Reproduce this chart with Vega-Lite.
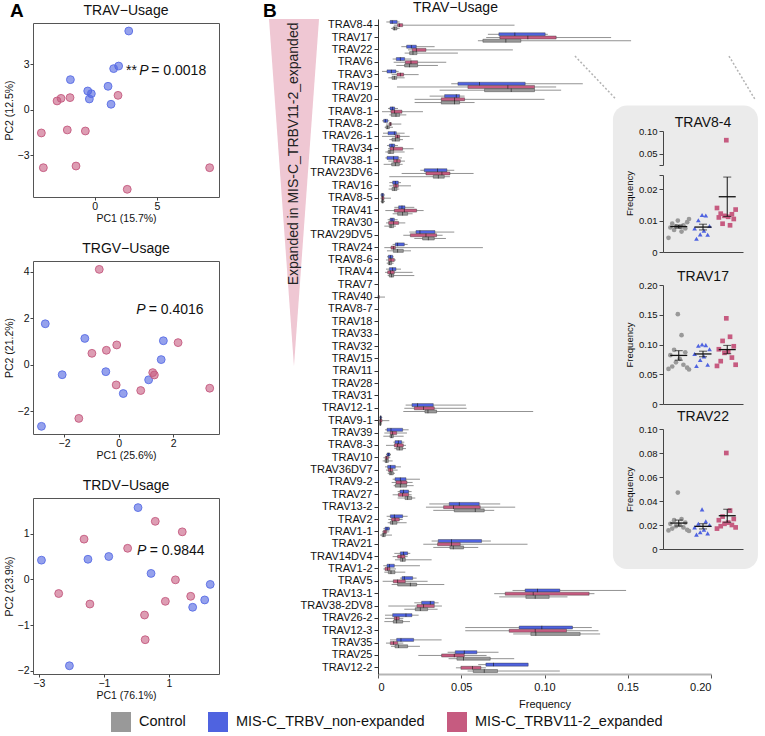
{
"$schema": "https://vega.github.io/schema/vega-lite/v6.json",
"padding": {"left": 3, "top": 0, "right": 5, "bottom": 0},
"background": "white",
"config": {
 "font": "Liberation Sans",
 "view": {"stroke": null},
 "axis": {"grid": false, "labelFont": "Liberation Sans", "titleFont": "Liberation Sans", "titleFontWeight": "normal", "labelColor": "#111", "titleColor": "#111", "labelOverlap": false},
 "title": {"font": "Liberation Sans", "fontWeight": "normal", "color": "#111", "fontSize": 14},
 "legend": {"labelFont": "Liberation Sans"}
},
"datasets": {
 "pca": [
  {"pc":"TRAV","k":"N","x":2.73,"y":5.21},{"pc":"TRAV","k":"N","x":1.92,"y":2.89},{"pc":"TRAV","k":"N","x":1.52,"y":2.72},{"pc":"TRAV","k":"N","x":-1.95,"y":1.99},{"pc":"TRAV","k":"N","x":1.07,"y":1.55},{"pc":"TRAV","k":"N","x":-0.56,"y":1.24},{"pc":"TRAV","k":"N","x":-0.27,"y":1.06},{"pc":"TRAV","k":"N","x":-0.43,"y":0.71},{"pc":"TRAV","k":"N","x":1.31,"y":0.36},
  {"pc":"TRAV","k":"E","x":1.87,"y":0.95},{"pc":"TRAV","k":"E","x":-3.02,"y":0.58},{"pc":"TRAV","k":"E","x":-2.70,"y":0.75},{"pc":"TRAV","k":"E","x":-1.98,"y":0.80},{"pc":"TRAV","k":"E","x":-4.28,"y":-1.54},{"pc":"TRAV","k":"E","x":-2.20,"y":-1.34},{"pc":"TRAV","k":"E","x":-0.75,"y":-1.41},{"pc":"TRAV","k":"E","x":-4.12,"y":-3.84},{"pc":"TRAV","k":"E","x":-1.50,"y":-3.73},{"pc":"TRAV","k":"E","x":2.61,"y":-5.27},{"pc":"TRAV","k":"E","x":9.22,"y":-3.84},
  {"pc":"TRGV","k":"N","x":-2.69,"y":1.77},{"pc":"TRGV","k":"N","x":-1.24,"y":1.14},{"pc":"TRGV","k":"N","x":1.64,"y":1.04},{"pc":"TRGV","k":"N","x":1.56,"y":0.23},{"pc":"TRGV","k":"N","x":-2.07,"y":-0.42},{"pc":"TRGV","k":"N","x":-0.47,"y":-0.29},{"pc":"TRGV","k":"N","x":1.10,"y":-0.64},{"pc":"TRGV","k":"N","x":0.17,"y":-1.23},{"pc":"TRGV","k":"N","x":-2.83,"y":-2.64},
  {"pc":"TRGV","k":"E","x":-0.71,"y":4.11},{"pc":"TRGV","k":"E","x":-0.98,"y":0.50},{"pc":"TRGV","k":"E","x":-0.45,"y":0.63},{"pc":"TRGV","k":"E","x":-0.07,"y":0.86},{"pc":"TRGV","k":"E","x":2.18,"y":0.96},{"pc":"TRGV","k":"E","x":-0.09,"y":-0.86},{"pc":"TRGV","k":"E","x":1.25,"y":-0.33},{"pc":"TRGV","k":"E","x":1.31,"y":-0.43},{"pc":"TRGV","k":"E","x":0.81,"y":-1.10},{"pc":"TRGV","k":"E","x":3.34,"y":-1.00},{"pc":"TRGV","k":"E","x":-1.46,"y":-2.30},
  {"pc":"TRDV","k":"N","x":0.05,"y":1.57},{"pc":"TRDV","k":"N","x":-2.92,"y":0.42},{"pc":"TRDV","k":"N","x":-1.49,"y":0.44},{"pc":"TRDV","k":"N","x":-0.85,"y":0.50},{"pc":"TRDV","k":"N","x":0.45,"y":0.13},{"pc":"TRDV","k":"N","x":2.27,"y":-0.11},{"pc":"TRDV","k":"N","x":2.10,"y":-0.45},{"pc":"TRDV","k":"N","x":1.73,"y":-0.61},{"pc":"TRDV","k":"N","x":-2.06,"y":-1.89},
  {"pc":"TRDV","k":"E","x":0.58,"y":1.27},{"pc":"TRDV","k":"E","x":1.41,"y":1.04},{"pc":"TRDV","k":"E","x":-1.61,"y":0.88},{"pc":"TRDV","k":"E","x":-0.27,"y":0.68},{"pc":"TRDV","k":"E","x":1.20,"y":-0.01},{"pc":"TRDV","k":"E","x":-2.39,"y":-0.31},{"pc":"TRDV","k":"E","x":-1.43,"y":-0.54},{"pc":"TRDV","k":"E","x":0.89,"y":-0.48},{"pc":"TRDV","k":"E","x":1.67,"y":-0.37},{"pc":"TRDV","k":"E","x":0.25,"y":-0.78},{"pc":"TRDV","k":"E","x":0.27,"y":-1.32}
 ],
 "box": [
  {"g":"TRAV8-4","k":"N","lo":0.005,"q1":0.0072,"md":0.0085,"q3":0.0115,"hi":0.013},{"g":"TRAV8-4","k":"E","lo":0.0095,"q1":0.0118,"md":0.013,"q3":0.0148,"hi":0.082},{"g":"TRAV8-4","k":"C","lo":0.0078,"q1":0.009,"md":0.010,"q3":0.0114,"hi":0.013},
  {"g":"TRAV17","k":"N","lo":0.066,"q1":0.0726,"md":0.0822,"q3":0.1004,"hi":0.102},{"g":"TRAV17","k":"E","lo":0.065,"q1":0.0732,"md":0.090,"q3":0.107,"hi":0.14},{"g":"TRAV17","k":"C","lo":0.060,"q1":0.063,"md":0.0768,"q3":0.0858,"hi":0.152},
  {"g":"TRAV22","k":"N","lo":0.014,"q1":0.0172,"md":0.020,"q3":0.023,"hi":0.034},{"g":"TRAV22","k":"E","lo":0.018,"q1":0.0206,"md":0.023,"q3":0.0288,"hi":0.081},{"g":"TRAV22","k":"C","lo":0.016,"q1":0.019,"md":0.021,"q3":0.0234,"hi":0.048},
  {"g":"TRAV6","k":"N","lo":0.0088,"q1":0.011,"md":0.0134,"q3":0.016,"hi":0.020},{"g":"TRAV6","k":"E","lo":0.0094,"q1":0.0164,"md":0.0198,"q3":0.0238,"hi":0.041},{"g":"TRAV6","k":"C","lo":0.011,"q1":0.016,"md":0.019,"q3":0.0238,"hi":0.036},
  {"g":"TRAV3","k":"N","lo":0.0024,"q1":0.0054,"md":0.008,"q3":0.0108,"hi":0.0124},{"g":"TRAV3","k":"E","lo":0.0082,"q1":0.0114,"md":0.0134,"q3":0.0154,"hi":0.0244},{"g":"TRAV3","k":"C","lo":0.0062,"q1":0.0084,"md":0.0098,"q3":0.0112,"hi":0.016},
  {"g":"TRAV19","k":"N","lo":0.044,"q1":0.048,"md":0.061,"q3":0.0884,"hi":0.123},{"g":"TRAV19","k":"E","lo":0.0114,"q1":0.054,"md":0.078,"q3":0.094,"hi":0.107},{"g":"TRAV19","k":"C","lo":0.037,"q1":0.064,"md":0.080,"q3":0.094,"hi":0.11},
  {"g":"TRAV20","k":"N","lo":0.031,"q1":0.040,"md":0.047,"q3":0.049,"hi":0.052},{"g":"TRAV20","k":"E","lo":0.022,"q1":0.038,"md":0.046,"q3":0.052,"hi":0.10},{"g":"TRAV20","k":"C","lo":0.022,"q1":0.038,"md":0.046,"q3":0.049,"hi":0.058},
  {"g":"TRAV8-1","k":"N","lo":0.006,"q1":0.0072,"md":0.0086,"q3":0.010,"hi":0.012},{"g":"TRAV8-1","k":"E","lo":0.0024,"q1":0.0078,"md":0.010,"q3":0.0144,"hi":0.027},{"g":"TRAV8-1","k":"C","lo":0.0068,"q1":0.008,"md":0.0108,"q3":0.013,"hi":0.017},
  {"g":"TRAV8-2","k":"N","lo":0.0024,"q1":0.0034,"md":0.0044,"q3":0.0058,"hi":0.0068},{"g":"TRAV8-2","k":"E","lo":0.0048,"q1":0.0068,"md":0.0074,"q3":0.008,"hi":0.014},{"g":"TRAV8-2","k":"C","lo":0.004,"q1":0.0048,"md":0.0058,"q3":0.0068,"hi":0.009},
  {"g":"TRAV26-1","k":"N","lo":0.003,"q1":0.006,"md":0.0098,"q3":0.011,"hi":0.016},{"g":"TRAV26-1","k":"E","lo":0.0024,"q1":0.0104,"md":0.0118,"q3":0.013,"hi":0.019},{"g":"TRAV26-1","k":"C","lo":0.0068,"q1":0.0084,"md":0.0104,"q3":0.013,"hi":0.015},
  {"g":"TRAV34","k":"N","lo":0.0054,"q1":0.0068,"md":0.0084,"q3":0.010,"hi":0.012},{"g":"TRAV34","k":"E","lo":0.006,"q1":0.0072,"md":0.0094,"q3":0.0148,"hi":0.0214},{"g":"TRAV34","k":"C","lo":0.0044,"q1":0.006,"md":0.0072,"q3":0.0094,"hi":0.016},
  {"g":"TRAV38-1","k":"N","lo":0.0044,"q1":0.0054,"md":0.0094,"q3":0.0122,"hi":0.0144},{"g":"TRAV38-1","k":"E","lo":0.0062,"q1":0.0094,"md":0.0114,"q3":0.0134,"hi":0.0162},{"g":"TRAV38-1","k":"C","lo":0.0034,"q1":0.0082,"md":0.0104,"q3":0.0128,"hi":0.0148},
  {"g":"TRAV23DV6","k":"N","lo":0.0254,"q1":0.0278,"md":0.0358,"q3":0.0414,"hi":0.0458},{"g":"TRAV23DV6","k":"E","lo":0.0142,"q1":0.0288,"md":0.0384,"q3":0.0432,"hi":0.0574},{"g":"TRAV23DV6","k":"C","lo":0.0068,"q1":0.0332,"md":0.0362,"q3":0.0398,"hi":0.0432},
  {"g":"TRAV16","k":"N","lo":0.0068,"q1":0.0088,"md":0.0104,"q3":0.0122,"hi":0.0138},{"g":"TRAV16","k":"E","lo":0.0068,"q1":0.0094,"md":0.0108,"q3":0.0122,"hi":0.0198},{"g":"TRAV16","k":"C","lo":0.0064,"q1":0.0084,"md":0.0098,"q3":0.0114,"hi":0.0128},
  {"g":"TRAV8-5","k":"N","lo":0.0014,"q1":0.002,"md":0.0026,"q3":0.0034,"hi":0.0042},{"g":"TRAV8-5","k":"E","lo":0.0014,"q1":0.0022,"md":0.0028,"q3":0.0036,"hi":0.0078},{"g":"TRAV8-5","k":"C","lo":0.0016,"q1":0.0022,"md":0.0026,"q3":0.0034,"hi":0.0042},
  {"g":"TRAV41","k":"N","lo":0.0098,"q1":0.0124,"md":0.0144,"q3":0.0162,"hi":0.0218},{"g":"TRAV41","k":"E","lo":0.0044,"q1":0.0098,"md":0.0158,"q3":0.0232,"hi":0.0274},{"g":"TRAV41","k":"C","lo":0.0088,"q1":0.0118,"md":0.0148,"q3":0.0178,"hi":0.0208},
  {"g":"TRAV30","k":"N","lo":0.0058,"q1":0.0072,"md":0.0084,"q3":0.0098,"hi":0.0118},{"g":"TRAV30","k":"E","lo":0.0048,"q1":0.0064,"md":0.0094,"q3":0.0124,"hi":0.0164},{"g":"TRAV30","k":"C","lo":0.0038,"q1":0.0068,"md":0.0078,"q3":0.0094,"hi":0.0108},
  {"g":"TRAV29DV5","k":"N","lo":0.0188,"q1":0.0228,"md":0.0252,"q3":0.0342,"hi":0.0458},{"g":"TRAV29DV5","k":"E","lo":0.0152,"q1":0.0194,"md":0.0288,"q3":0.0352,"hi":0.0388},{"g":"TRAV29DV5","k":"C","lo":0.0218,"q1":0.0268,"md":0.0302,"q3":0.0338,"hi":0.0408},
  {"g":"TRAV24","k":"N","lo":0.0088,"q1":0.0104,"md":0.0118,"q3":0.0158,"hi":0.0178},{"g":"TRAV24","k":"E","lo":0.0038,"q1":0.0078,"md":0.0092,"q3":0.0104,"hi":0.063},{"g":"TRAV24","k":"C","lo":0.0054,"q1":0.0092,"md":0.0118,"q3":0.0152,"hi":0.0198},
  {"g":"TRAV8-6","k":"N","lo":0.0054,"q1":0.0062,"md":0.0074,"q3":0.0088,"hi":0.0094},{"g":"TRAV8-6","k":"E","lo":0.0048,"q1":0.0064,"md":0.0078,"q3":0.0098,"hi":0.0108},{"g":"TRAV8-6","k":"C","lo":0.0052,"q1":0.0062,"md":0.007,"q3":0.0082,"hi":0.0094},
  {"g":"TRAV4","k":"N","lo":0.0048,"q1":0.0068,"md":0.0088,"q3":0.0108,"hi":0.0138},{"g":"TRAV4","k":"E","lo":0.0042,"q1":0.0058,"md":0.0074,"q3":0.0098,"hi":0.0208},{"g":"TRAV4","k":"C","lo":0.0058,"q1":0.0068,"md":0.0082,"q3":0.0094,"hi":0.0218},
  {"g":"TRAV40","k":"E","lo":0,"q1":0,"md":0.0002,"q3":0.0008,"hi":0.0042},
  {"g":"TRAV12-1","k":"N","lo":0.0166,"q1":0.0204,"md":0.0238,"q3":0.0332,"hi":0.0528},{"g":"TRAV12-1","k":"E","lo":0.0158,"q1":0.0218,"md":0.0274,"q3":0.0338,"hi":0.0532},{"g":"TRAV12-1","k":"C","lo":0.0152,"q1":0.0282,"md":0.030,"q3":0.0352,"hi":0.0932},
  {"g":"TRAV9-1","k":"N","lo":0.0008,"q1":0.0012,"md":0.0016,"q3":0.002,"hi":0.0026},{"g":"TRAV9-1","k":"E","lo":0.0004,"q1":0.001,"md":0.0016,"q3":0.0024,"hi":0.0068},{"g":"TRAV9-1","k":"C","lo":0.0006,"q1":0.001,"md":0.0014,"q3":0.0018,"hi":0.0024},
  {"g":"TRAV39","k":"N","lo":0.0042,"q1":0.0054,"md":0.0078,"q3":0.0148,"hi":0.0184},{"g":"TRAV39","k":"E","lo":0.0038,"q1":0.0074,"md":0.0088,"q3":0.0112,"hi":0.0174},{"g":"TRAV39","k":"C","lo":0.0032,"q1":0.0072,"md":0.0082,"q3":0.0092,"hi":0.0154},
  {"g":"TRAV8-3","k":"N","lo":0.0092,"q1":0.0102,"md":0.0122,"q3":0.0142,"hi":0.0158},{"g":"TRAV8-3","k":"E","lo":0.0048,"q1":0.0098,"md":0.0118,"q3":0.0152,"hi":0.0168},{"g":"TRAV8-3","k":"C","lo":0.0098,"q1":0.0112,"md":0.0128,"q3":0.0148,"hi":0.0168},
  {"g":"TRAV10","k":"N","lo":0.0048,"q1":0.0054,"md":0.0062,"q3":0.0072,"hi":0.0078},{"g":"TRAV10","k":"E","lo":0.0032,"q1":0.0044,"md":0.0052,"q3":0.0062,"hi":0.0074},{"g":"TRAV10","k":"C","lo":0.0028,"q1":0.0042,"md":0.005,"q3":0.0062,"hi":0.0088},
  {"g":"TRAV36DV7","k":"N","lo":0.0042,"q1":0.0058,"md":0.0074,"q3":0.0104,"hi":0.0138},{"g":"TRAV36DV7","k":"E","lo":0.0048,"q1":0.0062,"md":0.0074,"q3":0.0088,"hi":0.0118},{"g":"TRAV36DV7","k":"C","lo":0.0058,"q1":0.0068,"md":0.0078,"q3":0.0092,"hi":0.0102},
  {"g":"TRAV9-2","k":"N","lo":0.0088,"q1":0.0102,"md":0.0134,"q3":0.0168,"hi":0.0252},{"g":"TRAV9-2","k":"E","lo":0.0082,"q1":0.0108,"md":0.0138,"q3":0.0174,"hi":0.0208},{"g":"TRAV9-2","k":"C","lo":0.0094,"q1":0.0104,"md":0.0134,"q3":0.0172,"hi":0.0214},
  {"g":"TRAV27","k":"N","lo":0.0118,"q1":0.0132,"md":0.0154,"q3":0.0184,"hi":0.0202},{"g":"TRAV27","k":"E","lo":0.0088,"q1":0.0122,"md":0.0148,"q3":0.0184,"hi":0.0202},{"g":"TRAV27","k":"C","lo":0.0118,"q1":0.0162,"md":0.0178,"q3":0.0202,"hi":0.0224},
  {"g":"TRAV13-2","k":"N","lo":0.0308,"q1":0.0428,"md":0.0488,"q3":0.0608,"hi":0.0734},{"g":"TRAV13-2","k":"E","lo":0.0288,"q1":0.0394,"md":0.0454,"q3":0.0614,"hi":0.0824},{"g":"TRAV13-2","k":"C","lo":0.0332,"q1":0.0458,"md":0.0584,"q3":0.0638,"hi":0.0698},
  {"g":"TRAV2","k":"N","lo":0.0052,"q1":0.0074,"md":0.0098,"q3":0.0148,"hi":0.0178},{"g":"TRAV2","k":"E","lo":0.0062,"q1":0.0082,"md":0.0102,"q3":0.0128,"hi":0.0148},{"g":"TRAV2","k":"C","lo":0.0058,"q1":0.0074,"md":0.0088,"q3":0.0114,"hi":0.0172},
  {"g":"TRAV1-1","k":"N","lo":0.0032,"q1":0.0042,"md":0.0054,"q3":0.0068,"hi":0.0072},{"g":"TRAV1-1","k":"E","lo":0.0024,"q1":0.0032,"md":0.0042,"q3":0.0052,"hi":0.0068},{"g":"TRAV1-1","k":"C","lo":0.0012,"q1":0.0024,"md":0.0034,"q3":0.0044,"hi":0.0084},
  {"g":"TRAV21","k":"N","lo":0.0322,"q1":0.0362,"md":0.0442,"q3":0.0622,"hi":0.0678},{"g":"TRAV21","k":"E","lo":0.0272,"q1":0.0358,"md":0.0442,"q3":0.0494,"hi":0.0898},{"g":"TRAV21","k":"C","lo":0.0332,"q1":0.0432,"md":0.0452,"q3":0.0514,"hi":0.0602},
  {"g":"TRAV14DV4","k":"N","lo":0.0098,"q1":0.0134,"md":0.0154,"q3":0.0178,"hi":0.0194},{"g":"TRAV14DV4","k":"E","lo":0.0088,"q1":0.0118,"md":0.0138,"q3":0.0162,"hi":0.0178},{"g":"TRAV14DV4","k":"C","lo":0.0102,"q1":0.0134,"md":0.0148,"q3":0.0164,"hi":0.0322},
  {"g":"TRAV1-2","k":"N","lo":0.0032,"q1":0.0054,"md":0.0068,"q3":0.0098,"hi":0.0252},{"g":"TRAV1-2","k":"E","lo":0.0032,"q1":0.0042,"md":0.0058,"q3":0.0072,"hi":0.0108},{"g":"TRAV1-2","k":"C","lo":0.0038,"q1":0.0062,"md":0.0078,"q3":0.0102,"hi":0.0164},
  {"g":"TRAV5","k":"N","lo":0.0132,"q1":0.0144,"md":0.0158,"q3":0.0208,"hi":0.0232},{"g":"TRAV5","k":"E","lo":0.0028,"q1":0.0092,"md":0.0118,"q3":0.0164,"hi":0.0298},{"g":"TRAV5","k":"C","lo":0.0082,"q1":0.0118,"md":0.0194,"q3":0.0232,"hi":0.0398},
  {"g":"TRAV13-1","k":"N","lo":0.0808,"q1":0.0884,"md":0.0958,"q3":0.1092,"hi":0.149},{"g":"TRAV13-1","k":"E","lo":0.0698,"q1":0.0764,"md":0.0932,"q3":0.1268,"hi":0.130},{"g":"TRAV13-1","k":"C","lo":0.0728,"q1":0.0888,"md":0.0944,"q3":0.1028,"hi":0.1138},
  {"g":"TRAV38-2DV8","k":"N","lo":0.0218,"q1":0.0262,"md":0.0314,"q3":0.0338,"hi":0.0364},{"g":"TRAV38-2DV8","k":"E","lo":0.0062,"q1":0.0234,"md":0.0274,"q3":0.0338,"hi":0.0384},{"g":"TRAV38-2DV8","k":"C","lo":0.0158,"q1":0.0224,"md":0.0254,"q3":0.0298,"hi":0.0358},
  {"g":"TRAV26-2","k":"N","lo":0.0042,"q1":0.0088,"md":0.0168,"q3":0.0204,"hi":0.0244},{"g":"TRAV26-2","k":"E","lo":0.0042,"q1":0.0098,"md":0.011,"q3":0.0128,"hi":0.0152},{"g":"TRAV26-2","k":"C","lo":0.0038,"q1":0.0092,"md":0.0112,"q3":0.0148,"hi":0.0192},
  {"g":"TRAV12-3","k":"N","lo":0.0524,"q1":0.0848,"md":0.0984,"q3":0.1168,"hi":0.1284},{"g":"TRAV12-3","k":"E","lo":0.0524,"q1":0.0788,"md":0.0944,"q3":0.1132,"hi":0.1324},{"g":"TRAV12-3","k":"C","lo":0.0812,"q1":0.0918,"md":0.0948,"q3":0.1214,"hi":0.1334},
  {"g":"TRAV35","k":"N","lo":0.0072,"q1":0.0112,"md":0.0138,"q3":0.0214,"hi":0.0382},{"g":"TRAV35","k":"E","lo":0.0048,"q1":0.0074,"md":0.0094,"q3":0.0118,"hi":0.0152},{"g":"TRAV35","k":"C","lo":0.0078,"q1":0.0102,"md":0.0124,"q3":0.0178,"hi":0.0252},
  {"g":"TRAV25","k":"N","lo":0.0418,"q1":0.0464,"md":0.0518,"q3":0.0594,"hi":0.0724},{"g":"TRAV25","k":"E","lo":0.0242,"q1":0.0382,"md":0.0458,"q3":0.0518,"hi":0.0652},{"g":"TRAV25","k":"C","lo":0.0424,"q1":0.0474,"md":0.0514,"q3":0.0674,"hi":0.0818},
  {"g":"TRAV12-2","k":"N","lo":0.0602,"q1":0.0648,"md":0.0694,"q3":0.0902,"hi":0.0902},{"g":"TRAV12-2","k":"E","lo":0.0468,"q1":0.0498,"md":0.0568,"q3":0.0618,"hi":0.0648},{"g":"TRAV12-2","k":"C","lo":0.0538,"q1":0.0572,"md":0.0638,"q3":0.0718,"hi":0.1092}
 ],
 "ins": [
  {"p":"TRAV8-4","k":"C","i":1,"v":0.0045},{"p":"TRAV8-4","k":"C","i":8,"v":0.0065},{"p":"TRAV8-4","k":"C","i":4,"v":0.007},{"p":"TRAV8-4","k":"C","i":10,"v":0.0075},{"p":"TRAV8-4","k":"C","i":2,"v":0.0078},{"p":"TRAV8-4","k":"C","i":7,"v":0.008},{"p":"TRAV8-4","k":"C","i":5,"v":0.0082},{"p":"TRAV8-4","k":"C","i":9,"v":0.0085},{"p":"TRAV8-4","k":"C","i":3,"v":0.009},{"p":"TRAV8-4","k":"C","i":11,"v":0.0095},{"p":"TRAV8-4","k":"C","i":6,"v":0.010},{"p":"TRAV8-4","k":"C","i":12,"v":0.0105},
  {"p":"TRAV8-4","k":"N","i":6,"v":0.0118},{"p":"TRAV8-4","k":"N","i":8,"v":0.0116},{"p":"TRAV8-4","k":"N","i":4,"v":0.0101},{"p":"TRAV8-4","k":"N","i":10,"v":0.0083},{"p":"TRAV8-4","k":"N","i":2,"v":0.0075},{"p":"TRAV8-4","k":"N","i":7,"v":0.0068},{"p":"TRAV8-4","k":"N","i":5,"v":0.0056},{"p":"TRAV8-4","k":"N","i":9,"v":0.0055},{"p":"TRAV8-4","k":"N","i":3,"v":0.0042},
  {"p":"TRAV8-4","k":"E","i":6,"v":0.08},{"p":"TRAV8-4","k":"E","i":8,"v":0.0085},{"p":"TRAV8-4","k":"E","i":4,"v":0.009},{"p":"TRAV8-4","k":"E","i":10,"v":0.0105},{"p":"TRAV8-4","k":"E","i":2,"v":0.011},{"p":"TRAV8-4","k":"E","i":7,"v":0.0112},{"p":"TRAV8-4","k":"E","i":5,"v":0.0115},{"p":"TRAV8-4","k":"E","i":9,"v":0.012},{"p":"TRAV8-4","k":"E","i":3,"v":0.0122},{"p":"TRAV8-4","k":"E","i":11,"v":0.0135},{"p":"TRAV8-4","k":"E","i":1,"v":0.014},
  {"p":"TRAV17","k":"C","i":6,"v":0.151},{"p":"TRAV17","k":"C","i":8,"v":0.1157},{"p":"TRAV17","k":"C","i":4,"v":0.091},{"p":"TRAV17","k":"C","i":10,"v":0.087},{"p":"TRAV17","k":"C","i":2,"v":0.082},{"p":"TRAV17","k":"C","i":7,"v":0.076},{"p":"TRAV17","k":"C","i":5,"v":0.070},{"p":"TRAV17","k":"C","i":9,"v":0.066},{"p":"TRAV17","k":"C","i":3,"v":0.063},{"p":"TRAV17","k":"C","i":11,"v":0.061},{"p":"TRAV17","k":"C","i":1,"v":0.059},{"p":"TRAV17","k":"C","i":12,"v":0.058},
  {"p":"TRAV17","k":"N","i":6,"v":0.100},{"p":"TRAV17","k":"N","i":8,"v":0.099},{"p":"TRAV17","k":"N","i":4,"v":0.098},{"p":"TRAV17","k":"N","i":10,"v":0.092},{"p":"TRAV17","k":"N","i":2,"v":0.084},{"p":"TRAV17","k":"N","i":7,"v":0.080},{"p":"TRAV17","k":"N","i":5,"v":0.074},{"p":"TRAV17","k":"N","i":9,"v":0.066},{"p":"TRAV17","k":"N","i":3,"v":0.064},
  {"p":"TRAV17","k":"E","i":6,"v":0.144},{"p":"TRAV17","k":"E","i":8,"v":0.113},{"p":"TRAV17","k":"E","i":4,"v":0.106},{"p":"TRAV17","k":"E","i":10,"v":0.097},{"p":"TRAV17","k":"E","i":2,"v":0.092},{"p":"TRAV17","k":"E","i":7,"v":0.088},{"p":"TRAV17","k":"E","i":5,"v":0.086},{"p":"TRAV17","k":"E","i":9,"v":0.078},{"p":"TRAV17","k":"E","i":3,"v":0.072},{"p":"TRAV17","k":"E","i":11,"v":0.066},{"p":"TRAV17","k":"E","i":1,"v":0.064},
  {"p":"TRAV22","k":"C","i":6,"v":0.047},{"p":"TRAV22","k":"C","i":8,"v":0.025},{"p":"TRAV22","k":"C","i":4,"v":0.024},{"p":"TRAV22","k":"C","i":10,"v":0.022},{"p":"TRAV22","k":"C","i":2,"v":0.021},{"p":"TRAV22","k":"C","i":7,"v":0.020},{"p":"TRAV22","k":"C","i":5,"v":0.019},{"p":"TRAV22","k":"C","i":9,"v":0.018},{"p":"TRAV22","k":"C","i":3,"v":0.017},{"p":"TRAV22","k":"C","i":11,"v":0.016},{"p":"TRAV22","k":"C","i":1,"v":0.0155},{"p":"TRAV22","k":"C","i":12,"v":0.015},
  {"p":"TRAV22","k":"N","i":6,"v":0.033},{"p":"TRAV22","k":"N","i":8,"v":0.023},{"p":"TRAV22","k":"N","i":4,"v":0.021},{"p":"TRAV22","k":"N","i":10,"v":0.020},{"p":"TRAV22","k":"N","i":2,"v":0.018},{"p":"TRAV22","k":"N","i":7,"v":0.016},{"p":"TRAV22","k":"N","i":5,"v":0.014},{"p":"TRAV22","k":"N","i":9,"v":0.013},{"p":"TRAV22","k":"N","i":3,"v":0.012},
  {"p":"TRAV22","k":"E","i":6,"v":0.080},{"p":"TRAV22","k":"E","i":8,"v":0.032},{"p":"TRAV22","k":"E","i":4,"v":0.027},{"p":"TRAV22","k":"E","i":10,"v":0.025},{"p":"TRAV22","k":"E","i":2,"v":0.024},{"p":"TRAV22","k":"E","i":7,"v":0.022},{"p":"TRAV22","k":"E","i":5,"v":0.021},{"p":"TRAV22","k":"E","i":9,"v":0.020},{"p":"TRAV22","k":"E","i":3,"v":0.019},{"p":"TRAV22","k":"E","i":11,"v":0.018},{"p":"TRAV22","k":"E","i":1,"v":0.017}
 ],
 "groups": [{"k": "C"}, {"k": "N"}, {"k": "E"}]
},
"resolve": {"scale": {"color": "independent"}},
"spacing": 0,
"vconcat": [
{
"spacing": 43,
"hconcat": [
 {
  "vconcat": [
   {"width": 186, "height": 2, "data": {"values": [{}]}, "mark": {"type": "text", "text": ""}},
   {
    "width": 186, "height": 174,
    "view": {"stroke": "#555", "strokeWidth": 1},
    "layer": [
     {"data": {"name": "pca"}, "transform": [{"filter": "datum.pc == 'TRAV'"}],
      "mark": {"type": "circle", "size": 62, "fillOpacity": 0.6, "strokeWidth": 1, "strokeOpacity": 0.9},
      "encoding": {
       "x": {"field": "x", "type": "quantitative", "scale": {"domain": [-4.95, 9.97], "nice": false, "zero": false}, "axis": {"values": [0, 5], "title": "PC1 (15.7%)", "domain": false, "tickSize": 3, "tickColor": "#444", "labelFontSize": 10.5, "titleFontSize": 10.5, "labelPadding": 1, "titlePadding": 2}},
       "y": {"field": "y", "type": "quantitative", "scale": {"domain": [-5.78, 5.74], "nice": false, "zero": false}, "axis": {"values": [-3, 0, 3], "title": "PC2 (12.5%)", "domain": false, "tickSize": 3, "tickColor": "#444", "labelFontSize": 10.5, "titleFontSize": 10.5, "labelPadding": 1, "titlePadding": 3}},
       "color": {"field": "k", "type": "nominal", "scale": {"domain": ["C","N","E"], "range": ["#999999","#4f63e0","#c65b80"]}, "legend": null},
       "stroke": {"field": "k", "type": "nominal", "scale": {"domain": ["C","N","E"], "range": ["#888888","#5a6ee6","#c45a80"]}, "legend": null}
      }},
     {"data": {"values": [{}]}, "mark": {"type": "text", "text": "A", "fontSize": 19, "fontWeight": "bold", "align": "left", "baseline": "middle", "color": "#000"}, "encoding": {"x": {"datum": -6.79}, "y": {"datum": 6.54}}},
     {"data": {"values": [{}]}, "mark": {"type": "text", "text": "TRAV−Usage", "fontSize": 14, "align": "center", "baseline": "middle", "color": "#111"}, "encoding": {"x": {"datum": 2.51}, "y": {"datum": 6.54}}},
     {"data": {"values": [{}]}, "mark": {"type": "text", "text": "**", "fontSize": 14, "align": "left", "baseline": "alphabetic", "color": "#111"}, "encoding": {"x": {"datum": 2.51}, "y": {"datum": 2.30}}},
     {"data": {"values": [{}]}, "mark": {"type": "text", "text": "P", "fontSize": 14, "fontStyle": "italic", "align": "left", "baseline": "alphabetic", "color": "#111"}, "encoding": {"x": {"datum": 3.58}, "y": {"datum": 2.30}}},
     {"data": {"values": [{}]}, "mark": {"type": "text", "text": "= 0.0018", "fontSize": 14, "align": "left", "baseline": "alphabetic", "color": "#111"}, "encoding": {"x": {"datum": 4.54}, "y": {"datum": 2.30}}}
    ]
   },
   {"width": 186, "height": 60, "data": {"values": [{}]}, "mark": {"type": "text", "text": ""}},
   {
    "width": 186, "height": 173,
    "view": {"stroke": "#555", "strokeWidth": 1},
    "title": {"text": "TRGV−Usage", "offset": 5},
    "layer": [
     {"data": {"name": "pca"}, "transform": [{"filter": "datum.pc == 'TRGV'"}],
      "mark": {"type": "circle", "size": 62, "fillOpacity": 0.6, "strokeWidth": 1, "strokeOpacity": 0.9},
      "encoding": {
       "x": {"field": "x", "type": "quantitative", "scale": {"domain": [-3.14, 3.68], "nice": false, "zero": false}, "axis": {"values": [-2, 0, 2], "title": "PC1 (25.6%)", "domain": false, "tickSize": 3, "tickColor": "#444", "labelFontSize": 10.5, "titleFontSize": 10.5, "labelPadding": 1, "titlePadding": 2}},
       "y": {"field": "y", "type": "quantitative", "scale": {"domain": [-2.97, 4.47], "nice": false, "zero": false}, "axis": {"values": [-2, 0, 2, 4], "title": "PC2 (21.2%)", "domain": false, "tickSize": 3, "tickColor": "#444", "labelFontSize": 10.5, "titleFontSize": 10.5, "labelPadding": 1, "titlePadding": 3}},
       "color": {"field": "k", "type": "nominal", "scale": {"domain": ["C","N","E"], "range": ["#999999","#4f63e0","#c65b80"]}, "legend": null},
       "stroke": {"field": "k", "type": "nominal", "scale": {"domain": ["C","N","E"], "range": ["#888888","#5a6ee6","#c45a80"]}, "legend": null}
      }},
     {"data": {"values": [{}]}, "mark": {"type": "text", "text": "P", "fontSize": 14, "fontStyle": "italic", "align": "left", "baseline": "alphabetic", "color": "#111"}, "encoding": {"x": {"datum": 0.65}, "y": {"datum": 2.21}}},
     {"data": {"values": [{}]}, "mark": {"type": "text", "text": "= 0.4016", "fontSize": 14, "align": "left", "baseline": "alphabetic", "color": "#111"}, "encoding": {"x": {"datum": 1.10}, "y": {"datum": 2.21}}}
    ]
   },
   {"width": 186, "height": 60, "data": {"values": [{}]}, "mark": {"type": "text", "text": ""}},
   {
    "width": 186, "height": 176,
    "view": {"stroke": "#555", "strokeWidth": 1},
    "title": {"text": "TRDV−Usage", "offset": 5},
    "layer": [
     {"data": {"name": "pca"}, "transform": [{"filter": "datum.pc == 'TRDV'"}],
      "mark": {"type": "circle", "size": 62, "fillOpacity": 0.6, "strokeWidth": 1, "strokeOpacity": 0.9},
      "encoding": {
       "x": {"field": "x", "type": "quantitative", "scale": {"domain": [-3.18, 2.54], "nice": false, "zero": false}, "axis": {"values": [-3, -2, -1, 0, 1, 2], "title": "PC1 (76.1%)", "domain": false, "tickSize": 3, "tickColor": "#444", "labelFontSize": 10.5, "titleFontSize": 10.5, "labelPadding": 1, "titlePadding": 2}},
       "y": {"field": "y", "type": "quantitative", "scale": {"domain": [-2.07, 1.78], "nice": false, "zero": false}, "axis": {"values": [-2, -1, 0, 1], "title": "PC2 (23.9%)", "domain": false, "tickSize": 3, "tickColor": "#444", "labelFontSize": 10.5, "titleFontSize": 10.5, "labelPadding": 1, "titlePadding": 3}},
       "color": {"field": "k", "type": "nominal", "scale": {"domain": ["C","N","E"], "range": ["#999999","#4f63e0","#c65b80"]}, "legend": null},
       "stroke": {"field": "k", "type": "nominal", "scale": {"domain": ["C","N","E"], "range": ["#888888","#5a6ee6","#c45a80"]}, "legend": null}
      }},
     {"data": {"values": [{}]}, "mark": {"type": "text", "text": "P", "fontSize": 14, "fontStyle": "italic", "align": "left", "baseline": "alphabetic", "color": "#111"}, "encoding": {"x": {"datum": 0.02}, "y": {"datum": 0.53}}},
     {"data": {"values": [{}]}, "mark": {"type": "text", "text": "= 0.9844", "fontSize": 14, "align": "left", "baseline": "alphabetic", "color": "#111"}, "encoding": {"x": {"datum": 0.41}, "y": {"datum": 0.53}}}
    ]
   }
  ],
  "spacing": 2,
  "bounds": "flush"
 },
 {
  "hconcat": [
   {
    "width": 109, "height": 655,
    "layer": [
     {"data": {"values": [{"t": 0, "lo": 0, "hi": 0.459}, {"t": 0.53, "lo": 0.229, "hi": 0.229}]},
      "mark": {"type": "area", "orient": "horizontal", "color": "#efc7d3"},
      "encoding": {
       "y": {"field": "t", "type": "quantitative", "scale": {"domain": [0, 1], "reverse": true, "nice": false, "zero": false}, "axis": null},
       "x": {"field": "lo", "type": "quantitative", "scale": {"domain": [0, 1], "nice": false, "zero": false}, "axis": null},
       "x2": {"field": "hi"}
      }},
     {"data": {"values": [{}]}, "mark": {"type": "text", "text": "Expanded in MIS-C_TRBV11-2_expanded", "angle": 270, "fontSize": 14, "align": "center", "baseline": "middle", "color": "#222"}, "encoding": {"x": {"datum": 0.229}, "y": {"datum": 0.206}}},
     {"data": {"values": [{}]}, "mark": {"type": "text", "text": "B", "fontSize": 19, "fontWeight": "bold", "align": "left", "baseline": "middle", "color": "#000"}, "encoding": {"x": {"datum": -0.055}, "y": {"datum": -0.012}}}
    ]
   },
   {
    "width": 285, "height": 655,
    "title": {"text": "TRAV−Usage", "anchor": "start", "frame": "group", "dx": 35, "offset": 4},
    "layer": [
     {"data": {"values": [{}]}, "mark": {"type": "rect", "color": "#ebebeb", "cornerRadius": 14},
      "encoding": {"x": {"datum": 0.1411, "type": "quantitative"}, "x2": {"datum": 0.2282}, "y": {"datum": "TRAV8-1", "type": "nominal", "bandPosition": 0}, "y2": {"datum": "TRAV1-2"}}},
     {"data": {"values": [{}]}, "mark": {"type": "rule", "color": "#b3b3b3", "strokeDash": [2, 2], "strokeWidth": 1.5},
      "encoding": {"x": {"datum": 0.1183, "type": "quantitative"}, "x2": {"datum": 0.143}, "y": {"datum": "TRAV6", "type": "nominal", "bandPosition": 0}, "y2": {"datum": "TRAV20"}}},
     {"data": {"values": [{}]}, "mark": {"type": "rule", "color": "#b3b3b3", "strokeDash": [2, 2], "strokeWidth": 1.5},
      "encoding": {"x": {"datum": 0.2108, "type": "quantitative"}, "x2": {"datum": 0.2264}, "y": {"datum": "TRAV6", "type": "nominal", "bandPosition": 0}, "y2": {"datum": "TRAV20"}}},
     {"data": {"name": "box"}, "mark": {"type": "rule", "color": "#777777", "strokeWidth": 0.8},
      "encoding": {
       "x": {"field": "lo", "type": "quantitative", "scale": {"domain": [0, 0.2], "range": [0, 333], "nice": false, "zero": false}, "axis": {"values": [0, 0.05, 0.1, 0.15, 0.2], "format": ".2f", "labelExpr": "datum.value == 0 ? '0' : datum.label", "title": "Frequency", "titleFontSize": 11, "labelFontSize": 11, "domainColor": "#b5b5b5", "domainWidth": 2, "tickColor": "#555", "tickSize": 4, "labelPadding": 3, "titlePadding": 6}},
       "x2": {"field": "hi"},
       "y": {"field": "g", "type": "nominal", "scale": {"type": "band", "paddingInner": 0, "paddingOuter": 0, "domain": ["TRAV8-4","TRAV17","TRAV22","TRAV6","TRAV3","TRAV19","TRAV20","TRAV8-1","TRAV8-2","TRAV26-1","TRAV34","TRAV38-1","TRAV23DV6","TRAV16","TRAV8-5","TRAV41","TRAV30","TRAV29DV5","TRAV24","TRAV8-6","TRAV4","TRAV7","TRAV40","TRAV8-7","TRAV18","TRAV33","TRAV32","TRAV15","TRAV11","TRAV28","TRAV31","TRAV12-1","TRAV9-1","TRAV39","TRAV8-3","TRAV10","TRAV36DV7","TRAV9-2","TRAV27","TRAV13-2","TRAV2","TRAV1-1","TRAV21","TRAV14DV4","TRAV1-2","TRAV5","TRAV13-1","TRAV38-2DV8","TRAV26-2","TRAV12-3","TRAV35","TRAV25","TRAV12-2"]}, "axis": {"title": null, "labelFontSize": 11, "tickSize": 4, "domainColor": "#333", "tickColor": "#333", "labelPadding": 2}},
       "yOffset": {"field": "k", "type": "nominal", "scale": {"domain": ["N","E","C"], "paddingInner": 0.05, "paddingOuter": 0.45}}
      }},
     {"data": {"name": "box"}, "mark": {"type": "bar", "stroke": "#333", "strokeWidth": 0.4},
      "encoding": {
       "x": {"field": "q1", "type": "quantitative"},
       "x2": {"field": "q3"},
       "y": {"field": "g", "type": "nominal"},
       "yOffset": {"field": "k", "type": "nominal"},
       "color": {"field": "k", "type": "nominal", "scale": {"domain": ["C","N","E"], "range": ["#999999","#4f63e0","#c65b80"]}, "legend": null}
      }},
     {"data": {"name": "box"}, "mark": {"type": "tick", "color": "#111", "thickness": 0.8, "size": 3.5},
      "encoding": {
       "x": {"field": "md", "type": "quantitative"},
       "y": {"field": "g", "type": "nominal"},
       "yOffset": {"field": "k", "type": "nominal"}
      }}
    ]
   },
   {
    "vconcat": [
     {"width": 80, "height": 102, "data": {"values": [{}]}, "mark": {"type": "text", "text": ""}},
     {
      "width": 80, "height": 34,
      "title": {"text": "TRAV8-4", "offset": -4},
      "data": {"name": "ins"},
      "transform": [{"filter": "datum.p == 'TRAV8-4'"}],
      "mark": {"type": "point", "filled": true, "size": 22, "opacity": 1, "clip": true},
      "encoding": {
       "x": {"field": "k", "type": "nominal", "scale": {"domain": ["C","N","E"], "paddingInner": 0, "paddingOuter": 0.15}, "axis": null},
       "xOffset": {"field": "i", "type": "ordinal", "scale": {"paddingOuter": 2}},
       "y": {"field": "v", "type": "quantitative", "scale": {"domain": [0.026, 0.10], "nice": false, "zero": false}, "axis": {"title": null, "values": [0.026, 0.05, 0.1], "labelOverlap": false, "labelExpr": "datum.value < 0.03 ? '' : format(datum.value, '.2f')", "labelFontSize": 9.5, "tickSize": 4, "domainColor": "#444", "tickColor": "#444", "labelPadding": 2}},
       "color": {"field": "k", "type": "nominal", "scale": {"domain": ["C","N","E"], "range": ["#999999","#4f63e0","#c65b80"]}, "legend": null},
       "shape": {"field": "k", "type": "nominal", "scale": {"domain": ["C","N","E"], "range": ["circle","triangle-up","square"]}, "legend": null}
      }
     },
     {
      "width": 80, "height": 77,
      "data": {"name": "ins"},
      "transform": [{"filter": "datum.p == 'TRAV8-4'"}],
      "encoding": {
       "x": {"field": "k", "type": "nominal", "scale": {"domain": ["C","N","E"], "paddingInner": 0, "paddingOuter": 0.15}, "axis": {"labels": false, "ticks": false, "title": null, "domainColor": "#444", "domainWidth": 1.2}},
       "y": {"field": "v", "type": "quantitative", "title": "Frequency", "scale": {"domain": [0, 0.0245], "nice": false, "zero": false}, "axis": {"titleFontSize": 9.5, "titleY": 18, "values": [0, 0.01, 0.02, 0.0245], "labelOverlap": false, "labelExpr": "datum.value == 0 ? '0' : datum.value > 0.022 ? '' : format(datum.value, '.2f')", "labelFontSize": 9.5, "tickSize": 4, "domainColor": "#444", "tickColor": "#444", "labelPadding": 2, "titlePadding": 4}}
      },
      "layer": [
       {"mark": {"type": "point", "filled": true, "size": 22, "opacity": 1, "clip": true},
        "encoding": {
         "xOffset": {"field": "i", "type": "ordinal", "scale": {"paddingOuter": 2}},
         "color": {"field": "k", "type": "nominal", "scale": {"domain": ["C","N","E"], "range": ["#999999","#4f63e0","#c65b80"]}, "legend": null},
         "shape": {"field": "k", "type": "nominal", "scale": {"domain": ["C","N","E"], "range": ["circle","triangle-up","square"]}, "legend": null}
        }},
       {"mark": {"type": "errorbar", "extent": "stderr", "color": "#111", "ticks": {"size": 8}}},
       {"mark": {"type": "tick", "color": "#111", "size": 17, "thickness": 1.3}, "encoding": {"y": {"aggregate": "mean", "field": "v", "type": "quantitative", "title": "Frequency"}}}
      ]
     },
     {"width": 80, "height": 13, "data": {"values": [{}]}, "mark": {"type": "text", "text": ""}},
     {
      "width": 80, "height": 119,
      "title": {"text": "TRAV17", "offset": -4},
      "data": {"name": "ins"},
      "transform": [{"filter": "datum.p == 'TRAV17'"}],
      "encoding": {
       "x": {"field": "k", "type": "nominal", "scale": {"domain": ["C","N","E"], "paddingInner": 0, "paddingOuter": 0.15}, "axis": {"labels": false, "ticks": false, "title": null, "domainColor": "#444", "domainWidth": 1.2}},
       "y": {"field": "v", "type": "quantitative", "title": "Frequency", "scale": {"domain": [0, 0.2], "nice": false, "zero": false}, "axis": {"titleFontSize": 9.5, "values": [0, 0.05, 0.1, 0.15, 0.2], "labelOverlap": false, "labelExpr": "datum.value == 0 ? '0' : format(datum.value, '.2f')", "labelFontSize": 9.5, "tickSize": 4, "domainColor": "#444", "tickColor": "#444", "labelPadding": 2, "titlePadding": 4}}
      },
      "layer": [
       {"mark": {"type": "point", "filled": true, "size": 22, "opacity": 1},
        "encoding": {
         "xOffset": {"field": "i", "type": "ordinal", "scale": {"paddingOuter": 2}},
         "color": {"field": "k", "type": "nominal", "scale": {"domain": ["C","N","E"], "range": ["#999999","#4f63e0","#c65b80"]}, "legend": null},
         "shape": {"field": "k", "type": "nominal", "scale": {"domain": ["C","N","E"], "range": ["circle","triangle-up","square"]}, "legend": null}
        }},
       {"mark": {"type": "errorbar", "extent": "stderr", "color": "#111", "ticks": {"size": 8}}},
       {"mark": {"type": "tick", "color": "#111", "size": 17, "thickness": 1.3}, "encoding": {"y": {"aggregate": "mean", "field": "v", "type": "quantitative", "title": "Frequency"}}}
      ]
     },
     {"width": 80, "height": 5, "data": {"values": [{}]}, "mark": {"type": "text", "text": ""}},
     {
      "width": 80, "height": 120,
      "title": {"text": "TRAV22", "offset": 0},
      "data": {"name": "ins"},
      "transform": [{"filter": "datum.p == 'TRAV22'"}],
      "encoding": {
       "x": {"field": "k", "type": "nominal", "scale": {"domain": ["C","N","E"], "paddingInner": 0, "paddingOuter": 0.15}, "axis": {"labels": false, "ticks": false, "title": null, "domainColor": "#444", "domainWidth": 1.2}},
       "y": {"field": "v", "type": "quantitative", "title": "Frequency", "scale": {"domain": [0, 0.1], "nice": false, "zero": false}, "axis": {"titleFontSize": 9.5, "values": [0, 0.02, 0.04, 0.06, 0.08, 0.1], "labelOverlap": false, "labelExpr": "datum.value == 0 ? '0' : format(datum.value, '.2f')", "labelFontSize": 9.5, "tickSize": 4, "domainColor": "#444", "tickColor": "#444", "labelPadding": 2, "titlePadding": 4}}
      },
      "layer": [
       {"mark": {"type": "point", "filled": true, "size": 22, "opacity": 1},
        "encoding": {
         "xOffset": {"field": "i", "type": "ordinal", "scale": {"paddingOuter": 2}},
         "color": {"field": "k", "type": "nominal", "scale": {"domain": ["C","N","E"], "range": ["#999999","#4f63e0","#c65b80"]}, "legend": null},
         "shape": {"field": "k", "type": "nominal", "scale": {"domain": ["C","N","E"], "range": ["circle","triangle-up","square"]}, "legend": null}
        }},
       {"mark": {"type": "errorbar", "extent": "stderr", "color": "#111", "ticks": {"size": 8}}},
       {"mark": {"type": "tick", "color": "#111", "size": 17, "thickness": 1.3}, "encoding": {"y": {"aggregate": "mean", "field": "v", "type": "quantitative", "title": "Frequency"}}}
      ]
     }
    ],
    "spacing": 10,
    "bounds": "flush"
   }
  ],
  "spacing": 0,
  "bounds": "flush"
 }
]
},
{
 "width": 700, "height": 20,
 "data": {"name": "groups"},
 "mark": {"type": "square", "opacity": 0},
 "encoding": {
  "color": {"field": "k", "type": "nominal", "scale": {"domain": ["C","N","E"], "range": ["#999999","#4f63e0","#c65b80"]},
   "legend": {"orient": "none", "legendX": 78, "legendY": 3, "direction": "horizontal", "title": null, "symbolType": "square", "symbolSize": 400, "symbolStrokeWidth": 0, "symbolOpacity": 1, "labelFontSize": 14.5, "labelOffset": 8, "columnPadding": 22, "labelLimit": 400, "labelColor": "#111", "labelExpr": "datum.label == 'C' ? 'Control' : datum.label == 'N' ? 'MIS-C_TRBV_non-expanded' : 'MIS-C_TRBV11-2_expanded'"}}
 }
}
]
}
